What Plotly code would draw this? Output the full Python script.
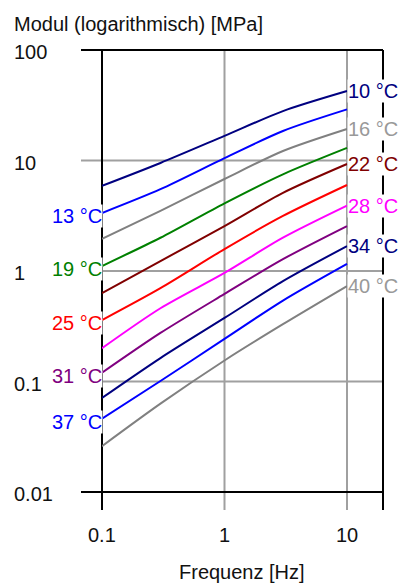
import numpy as np
import plotly.graph_objects as go

freq = [0.1, 0.3, 1, 3, 10]
temps = ["10 °C", "13 °C", "16 °C", "19 °C", "22 °C", "25 °C", "28 °C", "31 °C", "34 °C", "37 °C", "40 °C"]
modul = [
    [5.9, 9.5, 16.7, 28, 42.5],
    [3.35, 5.5, 10.5, 18.5, 29],
    [1.95, 3.5, 6.8, 12.2, 19.3],
    [1.11, 2.0, 4.1, 7.5, 13],
    [0.63, 1.23, 2.55, 5.1, 9.3],
    [0.36, 0.70, 1.58, 3.15, 6.0],
    [0.20, 0.46, 0.96, 2.0, 3.9],
    [0.12, 0.275, 0.62, 1.28, 2.55],
    [0.071, 0.163, 0.376, 0.81, 1.68],
    [0.046, 0.101, 0.243, 0.54, 1.16],
    [0.026, 0.063, 0.155, 0.33, 0.73],
]
line_colors = ["#000080", "#0000ff", "#808080", "#008000", "#800000", "#ff0000",
               "#ff00ff", "#800080", "#000080", "#0000ff", "#808080"]
label_colors = ["#000080", "#0000ff", "#999999", "#008000", "#800000", "#ff0000",
                "#ff00ff", "#800080", "#000080", "#0000ff", "#999999"]
label_side = ["right", "left"] * 5 + ["right"]

y_ticks = [100, 10, 1, 0.1, 0.01]
y_ticktext = ["100", "10", "1", "0.1", "0.01"]
x_ticks = [0.1, 1, 10]
x_ticktext = ["0.1", "1", "10"]

FONT = "Liberation Sans, Arial, sans-serif"
FS = 20
W, H = 401, 585
L, R, T, B = 102, 18, 50, 93
PW, PH = W - L - R, H - T - B

fig = go.Figure()
for name, vals, c in zip(temps, modul, line_colors):
    fig.add_trace(go.Scatter(x=freq, y=vals, mode="lines", name=name,
                             line=dict(color=c, width=2, shape="spline", smoothing=0.8),
                             showlegend=False, hoverinfo="skip"))

grid = "#a0a0a0"
shapes = []
for v in [10, 1, 0.1]:
    shapes.append(dict(type="line", xref="paper", yref="y", x0=-21 / PW, x1=1, y0=v, y1=v,
                       line=dict(color=grid, width=2), layer="below"))
for v in [1, 10]:
    shapes.append(dict(type="line", xref="x", yref="paper", x0=v, x1=v, y0=-18 / PH, y1=1,
                       line=dict(color=grid, width=2), layer="below"))
for yp in [0, 1]:
    shapes.append(dict(type="line", xref="paper", yref="paper", x0=-21 / PW, x1=1, y0=yp, y1=yp,
                       line=dict(color="black", width=2), layer="below"))
for xp in [0, 1]:
    shapes.append(dict(type="line", xref="paper", yref="paper", x0=xp, x1=xp, y0=-18 / PH, y1=1,
                       line=dict(color="black", width=2), layer="below"))

ann = []
for v, t in zip(y_ticks, y_ticktext):
    ann.append(dict(xref="paper", yref="y", x=(12 - L) / PW, y=np.log10(v), text=t,
                    xanchor="left", yanchor="middle", yshift=-2, showarrow=False,
                    font=dict(family=FONT, size=FS, color="#111")))
for v, t in zip(x_ticks, x_ticktext):
    ann.append(dict(xref="x", yref="paper", x=np.log10(v), y=0, text=t,
                    xanchor="center", yanchor="middle", yshift=-43, showarrow=False,
                    font=dict(family=FONT, size=FS, color="#111")))
for name, vals, c, side in zip(temps, modul, label_colors, label_side):
    if side == "right":
        ann.append(dict(xref="x", yref="y", x=np.log10(freq[-1]), y=np.log10(vals[-1]), text=name,
                        xanchor="left", yanchor="middle", xshift=0, yshift=0, showarrow=False,
                        bgcolor="white", borderpad=0,
                        font=dict(family=FONT, size=FS, color=c)))
    else:
        ann.append(dict(xref="x", yref="y", x=np.log10(freq[0]), y=np.log10(vals[0]), text=name,
                        xanchor="right", yanchor="middle", xshift=1, yshift=-3, showarrow=False,
                        bgcolor="white", borderpad=0,
                        font=dict(family=FONT, size=FS, color=c)))
ann.append(dict(xref="paper", yref="paper", x=(12 - L) / PW, y=1 + (T - 24) / PH,
                text="Modul (logarithmisch) [MPa]", xanchor="left", yanchor="middle",
                showarrow=False, font=dict(family=FONT, size=FS, color="#111")))
ann.append(dict(xref="paper", yref="paper", x=(242 - L) / PW, y=-(572 - (H - B)) / PH,
                text="Frequenz [Hz]", xanchor="center", yanchor="middle",
                showarrow=False, font=dict(family=FONT, size=FS, color="#111")))

fig.update_layout(
    width=W, height=H, margin=dict(l=L, r=R, t=T, b=B, pad=0),
    paper_bgcolor="white", plot_bgcolor="white",
    xaxis=dict(type="log", range=[-1, -1 + (383 - 102) / 122.5], showgrid=False,
               zeroline=False, showline=False, showticklabels=False, ticks=""),
    yaxis=dict(type="log", range=[-2, 2], showgrid=False, zeroline=False, showline=False,
               showticklabels=False, ticks=""),
    shapes=shapes, annotations=ann,
)
fig.write_html("out.html")
